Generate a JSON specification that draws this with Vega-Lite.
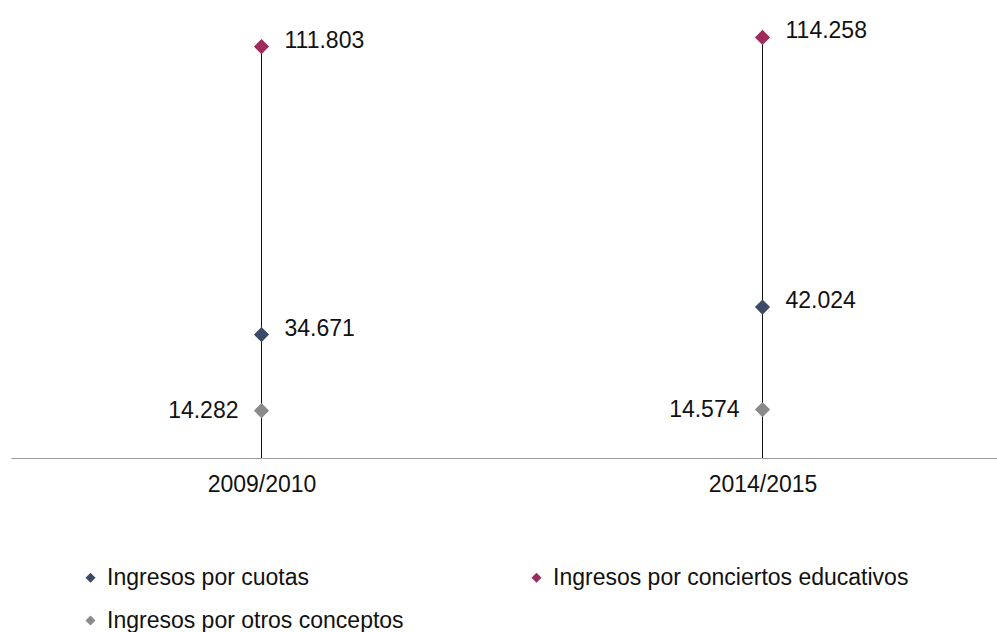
{
  "$schema": "https://vega.github.io/schema/vega-lite/v6.json",
  "width": 986,
  "height": 442,
  "autosize": {"type": "none"},
  "padding": {"left": 11, "top": 16, "right": 0, "bottom": 174},
  "background": "white",
  "config": {
    "view": {"stroke": null},
    "font": "Liberation Sans",
    "locale": {"number": {"decimal": ",", "thousands": ".", "grouping": [3], "currency": ["", " €"]}}
  },
  "data": {
    "values": [
      {"curso": "2009/2010", "serie": "Ingresos por cuotas", "valor": 34671},
      {"curso": "2009/2010", "serie": "Ingresos por conciertos educativos", "valor": 111803},
      {"curso": "2009/2010", "serie": "Ingresos por otros conceptos", "valor": 14282},
      {"curso": "2014/2015", "serie": "Ingresos por cuotas", "valor": 42024},
      {"curso": "2014/2015", "serie": "Ingresos por conciertos educativos", "valor": 114258},
      {"curso": "2014/2015", "serie": "Ingresos por otros conceptos", "valor": 14574}
    ]
  },
  "encoding": {
    "x": {
      "field": "curso", "type": "nominal",
      "scale": {"type": "point", "padding": 0.5, "range": [0, 1002]},
      "axis": {
        "title": null, "labelAngle": 0, "ticks": false, "grid": false,
        "domainColor": "#9a9a9a", "domainWidth": 1.2,
        "labelFontSize": 23, "labelColor": "#111111", "labelPadding": 15
      }
    }
  },
  "layer": [
    {
      "mark": {"type": "rule", "color": "#111111", "strokeWidth": 1},
      "encoding": {
        "y": {"aggregate": "max", "field": "valor", "type": "quantitative", "scale": {"domain": [1600, 120000], "nice": false, "zero": false}, "axis": null},
        "y2": {"datum": 1600}
      }
    },
    {
      "mark": {"type": "point", "shape": "diamond", "filled": true, "size": 230, "opacity": 1},
      "encoding": {
        "y": {"field": "valor", "type": "quantitative"},
        "color": {
          "field": "serie", "type": "nominal",
          "scale": {
            "domain": ["Ingresos por cuotas", "Ingresos por otros conceptos", "Ingresos por conciertos educativos"],
            "range": ["#3d4a66", "#8a8a8a", "#9c2c5c"]
          },
          "legend": {
            "title": null, "orient": "none", "legendX": 68, "legendY": 550,
            "columns": 2, "columnPadding": 121, "rowPadding": 19,
            "symbolType": "diamond", "symbolSize": 100, "labelFontSize": 23,
            "labelColor": "#111111", "labelOffset": 5, "labelLimit": 500
          }
        }
      }
    },
    {
      "transform": [{"filter": "datum.serie !== 'Ingresos por otros conceptos'"}],
      "mark": {"type": "text", "align": "left", "baseline": "middle", "dx": 23, "dy": -6, "fontSize": 23, "color": "#111111"},
      "encoding": {
        "y": {"field": "valor", "type": "quantitative"},
        "text": {"field": "valor", "type": "quantitative", "format": ",.0f"}
      }
    },
    {
      "transform": [{"filter": "datum.serie === 'Ingresos por otros conceptos'"}],
      "mark": {"type": "text", "align": "right", "baseline": "middle", "dx": -23, "dy": 0, "fontSize": 23, "color": "#111111"},
      "encoding": {
        "y": {"field": "valor", "type": "quantitative"},
        "text": {"field": "valor", "type": "quantitative", "format": ",.0f"}
      }
    }
  ]
}
